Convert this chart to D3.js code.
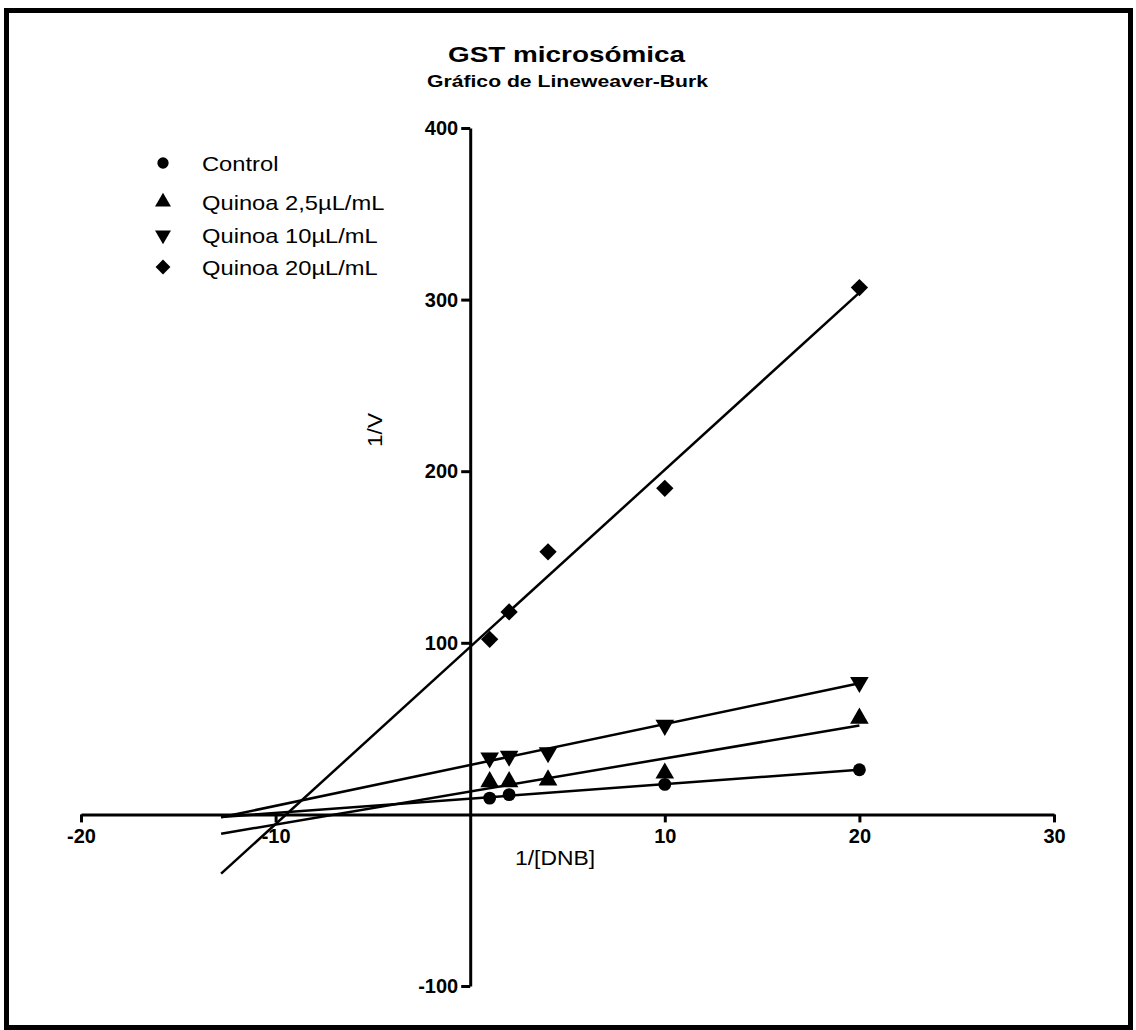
<!DOCTYPE html>
<html>
<head>
<meta charset="utf-8">
<script src="https://cdn.jsdelivr.net/npm/d3@7"></script>
<style>
  body { margin: 0; background: #fff; }
  svg { font-family: Arial, "Liberation Sans", sans-serif; }
</style>
</head>
<body>
<svg id="chart"></svg>
<script>
// Data
const seriesNames = ['Control', 'Quinoa 2,5\u00b5L/mL', 'Quinoa 10\u00b5L/mL', 'Quinoa 20\u00b5L/mL'];
const seriesSymbols = ['circle', 'up', 'down', 'diamond'];
const controlX = [1, 2, 10, 20];
const controlY = [9.5, 11.5, 17.5, 26];
const quinoa25X = [1, 2, 4, 10, 20];
const quinoa25Y = [19, 19, 20, 24, 56];
const quinoa10X = [1, 2, 4, 10, 20];
const quinoa10Y = [33, 34, 36, 52, 77];
const quinoa20X = [1, 2, 4, 10, 20];
const quinoa20Y = [102, 118, 153, 190, 307];
const fitRange = [-12.8, 20];
const xTicks = [-20, -10, 10, 20, 30];
const yTicks = [-100, 100, 200, 300, 400];

const width = 1136, height = 1030;
const svg = d3.select('#chart').attr('width', width).attr('height', height);

// outer frame
svg.append('rect')
  .attr('x', 6.5).attr('y', 10.5)
  .attr('width', 1124).attr('height', 1017)
  .attr('fill', 'none').attr('stroke', '#000').attr('stroke-width', 5);

const xScale = d3.scaleLinear().domain([-20, 30]).range([81, 1054]);
const yScale = d3.scaleLinear().domain([-100, 400]).range([986, 128]);

// titles (glyphs in the original are a bit wider than Arial, so stretch them)
svg.append('text')
  .attr('x', 448).attr('y', 62)
  .attr('textLength', 237).attr('lengthAdjust', 'spacingAndGlyphs')
  .style('font-size', '22px').style('font-weight', 'bold')
  .text('GST microsómica');
svg.append('text')
  .attr('x', 427).attr('y', 87)
  .attr('textLength', 281).attr('lengthAdjust', 'spacingAndGlyphs')
  .style('font-size', '17px').style('font-weight', 'bold')
  .text('Gráfico de Lineweaver-Burk');

// axes through the origin
const xAxis = d3.axisBottom(xScale).tickValues(xTicks).tickSize(8).tickSizeOuter(0)
  .tickPadding(6).tickFormat(d => String(d));
const yAxis = d3.axisLeft(yScale).tickValues(yTicks).tickSize(9).tickSizeOuter(0)
  .tickPadding(3).tickFormat(d => String(d));

const xAxisG = svg.append('g')
  .attr('transform', `translate(0,${yScale(0)})`)
  .call(xAxis);
const yAxisG = svg.append('g')
  .attr('transform', `translate(${xScale(0)},0)`)
  .call(yAxis);

[xAxisG, yAxisG].forEach(g => {
  g.select('.domain').attr('stroke', '#000').attr('stroke-width', 3);
  g.selectAll('.tick line').attr('stroke', '#000').attr('stroke-width', 3);
  g.selectAll('.tick text')
    .attr('fill', '#000')
    .style('font-size', '20px').style('font-weight', 'bold')
    .style('font-family', 'Arial, "Liberation Sans", sans-serif');
});

// axis titles
svg.append('text')
  .attr('transform', `translate(382,447) rotate(-90)`)
  .attr('textLength', 34).attr('lengthAdjust', 'spacingAndGlyphs')
  .style('font-size', '20px')
  .text('1/V');
svg.append('text')
  .attr('x', 515).attr('y', 865)
  .attr('textLength', 80).attr('lengthAdjust', 'spacingAndGlyphs')
  .style('font-size', '20px')
  .text('1/[DNB]');

const series = [
  { xs: controlX, ys: controlY },
  { xs: quinoa25X, ys: quinoa25Y },
  { xs: quinoa10X, ys: quinoa10Y },
  { xs: quinoa20X, ys: quinoa20Y }
];

function linFit(xs, ys) {
  const mx = d3.mean(xs), my = d3.mean(ys);
  let sxy = 0, sxx = 0;
  xs.forEach((x, i) => { sxy += (x - mx) * (ys[i] - my); sxx += (x - mx) ** 2; });
  const slope = sxy / sxx;
  return { slope, intercept: my - slope * mx };
}

const symbolTypes = {
  circle: d3.symbol().type(d3.symbolCircle).size(130),
  up: d3.symbol().type(d3.symbolTriangle).size(150),
  down: d3.symbol().type(d3.symbolTriangle).size(150),
  diamond: d3.symbol().type(d3.symbolSquare).size(150)
};
function symbolTransform(kind, x, y) {
  if (kind === 'down') return `translate(${x},${y}) rotate(180)`;
  if (kind === 'diamond') return `translate(${x},${y}) rotate(45)`;
  return `translate(${x},${y})`;
}

const line = d3.line().x(d => xScale(d[0])).y(d => yScale(d[1]));

series.forEach((s, i) => {
  const f = linFit(s.xs, s.ys);
  svg.append('path')
    .datum(fitRange.map(x => [x, f.intercept + f.slope * x]))
    .attr('d', line)
    .attr('fill', 'none')
    .attr('stroke', '#000')
    .attr('stroke-width', 2.5);

  svg.selectAll(`.pt${i}`)
    .data(s.xs.map((x, j) => [x, s.ys[j]]))
    .join('path')
    .attr('class', `pt${i}`)
    .attr('d', symbolTypes[seriesSymbols[i]]())
    .attr('transform', d => symbolTransform(seriesSymbols[i], xScale(d[0]), yScale(d[1])))
    .attr('fill', '#000');
});

// legend
const legend = svg.append('g').attr('transform', 'translate(163,163)');
seriesNames.forEach((name, i) => {
  const y = [0, 39, 72, 104][i];
  const kind = seriesSymbols[i];
  legend.append('path')
    .attr('d', symbolTypes[kind].size(kind === 'circle' ? 100 : 110)())
    .attr('transform', symbolTransform(kind, 0, y))
    .attr('fill', '#000');
  legend.append('text')
    .attr('transform', `translate(39,${y}) scale(1.13,1)`)
    .attr('dy', '0.36em')
    .style('font-size', '21px')
    .text(name);
});
</script>
</body>
</html>
